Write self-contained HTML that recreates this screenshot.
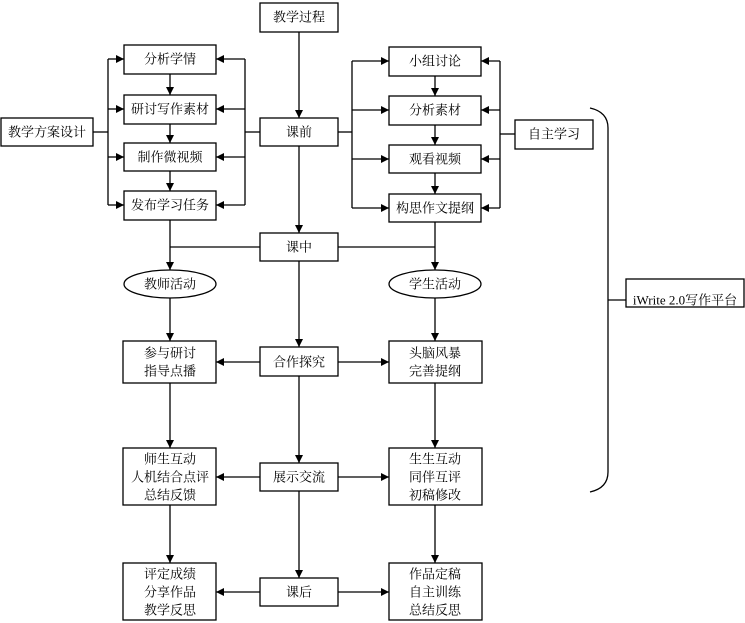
<!DOCTYPE html>
<html><head><meta charset="utf-8"><style>
html,body{margin:0;padding:0;background:#fff}
svg{display:block}
text{font-family:"Liberation Serif","Noto Serif CJK SC",serif;font-size:13px;fill:#000;text-anchor:middle;dominant-baseline:central}
</style></head><body>
<svg width="745" height="623" viewBox="0 0 745 623">
<defs><marker id="a" viewBox="0 0 10 10" refX="10" refY="5" markerWidth="8" markerHeight="8" markerUnits="userSpaceOnUse" orient="auto"><path d="M0,0L10,5L0,10z" fill="#000"/></marker></defs>
<g stroke="#000" stroke-width="1.3" fill="none">
<!-- center spine -->
<line x1="299" y1="32" x2="299" y2="118" marker-end="url(#a)"/>
<line x1="299" y1="146" x2="299" y2="233" marker-end="url(#a)"/>
<line x1="299" y1="261" x2="299" y2="347" marker-end="url(#a)"/>
<line x1="299" y1="376" x2="299" y2="463" marker-end="url(#a)"/>
<line x1="299" y1="491" x2="299" y2="578" marker-end="url(#a)"/>
<!-- left group -->
<line x1="93" y1="132" x2="108" y2="132"/>
<line x1="108" y1="59" x2="108" y2="205"/>
<line x1="108" y1="59" x2="124" y2="59" marker-end="url(#a)"/>
<line x1="108" y1="109" x2="124" y2="109" marker-end="url(#a)"/>
<line x1="108" y1="157" x2="124" y2="157" marker-end="url(#a)"/>
<line x1="108" y1="205" x2="124" y2="205" marker-end="url(#a)"/>
<line x1="260" y1="132" x2="245" y2="132"/>
<line x1="245" y1="59" x2="245" y2="205"/>
<line x1="245" y1="59" x2="216" y2="59" marker-end="url(#a)"/>
<line x1="245" y1="109" x2="216" y2="109" marker-end="url(#a)"/>
<line x1="245" y1="157" x2="216" y2="157" marker-end="url(#a)"/>
<line x1="245" y1="205" x2="216" y2="205" marker-end="url(#a)"/>
<line x1="170" y1="74" x2="170" y2="95" marker-end="url(#a)"/>
<line x1="170" y1="124" x2="170" y2="143" marker-end="url(#a)"/>
<line x1="170" y1="171" x2="170" y2="191" marker-end="url(#a)"/>
<!-- right group -->
<line x1="338" y1="132" x2="352" y2="132"/>
<line x1="352" y1="61" x2="352" y2="208"/>
<line x1="352" y1="61" x2="389" y2="61" marker-end="url(#a)"/>
<line x1="352" y1="110" x2="389" y2="110" marker-end="url(#a)"/>
<line x1="352" y1="159" x2="389" y2="159" marker-end="url(#a)"/>
<line x1="352" y1="208" x2="389" y2="208" marker-end="url(#a)"/>
<line x1="515" y1="134" x2="500" y2="134"/>
<line x1="500" y1="61" x2="500" y2="208"/>
<line x1="500" y1="61" x2="481" y2="61" marker-end="url(#a)"/>
<line x1="500" y1="110" x2="481" y2="110" marker-end="url(#a)"/>
<line x1="500" y1="159" x2="481" y2="159" marker-end="url(#a)"/>
<line x1="500" y1="208" x2="481" y2="208" marker-end="url(#a)"/>
<line x1="435" y1="76" x2="435" y2="96" marker-end="url(#a)"/>
<line x1="435" y1="125" x2="435" y2="145" marker-end="url(#a)"/>
<line x1="435" y1="173" x2="435" y2="194" marker-end="url(#a)"/>
<!-- 课中 -->
<line x1="170" y1="247" x2="260" y2="247"/>
<line x1="338" y1="247" x2="435" y2="247"/>
<line x1="170" y1="220" x2="170" y2="270" marker-end="url(#a)"/>
<line x1="435" y1="222" x2="435" y2="270" marker-end="url(#a)"/>
<line x1="170" y1="298" x2="170" y2="341" marker-end="url(#a)"/>
<line x1="435" y1="298" x2="435" y2="341" marker-end="url(#a)"/>
<line x1="170" y1="383" x2="170" y2="448" marker-end="url(#a)"/>
<line x1="435" y1="383" x2="435" y2="448" marker-end="url(#a)"/>
<line x1="170" y1="505" x2="170" y2="563" marker-end="url(#a)"/>
<line x1="435" y1="505" x2="435" y2="563" marker-end="url(#a)"/>
<line x1="260" y1="362" x2="216" y2="362" marker-end="url(#a)"/>
<line x1="338" y1="362" x2="389" y2="362" marker-end="url(#a)"/>
<line x1="260" y1="477" x2="216" y2="477" marker-end="url(#a)"/>
<line x1="338" y1="477" x2="389" y2="477" marker-end="url(#a)"/>
<line x1="260" y1="592" x2="216" y2="592" marker-end="url(#a)"/>
<line x1="338" y1="592" x2="389" y2="592" marker-end="url(#a)"/>
<!-- brace -->
<path d="M590,108 Q608,112 608,128 L608,472 Q608,488 590,492"/>
<line x1="608" y1="300" x2="626" y2="300"/>
<!-- boxes -->
<rect x="260" y="3" width="78" height="29"/>
<rect x="124" y="45" width="92" height="29"/>
<rect x="124" y="95" width="92" height="29"/>
<rect x="124" y="143" width="92" height="28"/>
<rect x="124" y="191" width="92" height="29"/>
<rect x="1" y="118" width="92" height="28"/>
<rect x="260" y="118" width="78" height="28"/>
<rect x="260" y="233" width="78" height="28"/>
<rect x="389" y="47" width="92" height="29"/>
<rect x="389" y="96" width="92" height="29"/>
<rect x="389" y="145" width="92" height="28"/>
<rect x="389" y="194" width="92" height="28"/>
<rect x="515" y="120" width="78" height="29"/>
<rect x="626" y="279" width="118" height="28"/>
<ellipse cx="170" cy="284" rx="46" ry="14"/>
<ellipse cx="435" cy="284" rx="46" ry="14"/>
<rect x="123" y="341" width="93" height="42"/>
<rect x="260" y="347" width="78" height="29"/>
<rect x="389" y="341" width="93" height="42"/>
<rect x="123" y="448" width="93" height="57"/>
<rect x="260" y="463" width="78" height="28"/>
<rect x="389" y="448" width="93" height="57"/>
<rect x="123" y="563" width="93" height="57"/>
<rect x="260" y="578" width="78" height="28"/>
<rect x="389" y="563" width="93" height="57"/>
</g>
<text x="299" y="17">教学过程</text>
<text x="170" y="59">分析学情</text>
<text x="170" y="109">研讨写作素材</text>
<text x="170" y="157">制作微视频</text>
<text x="170" y="205">发布学习任务</text>
<text x="47" y="132">教学方案设计</text>
<text x="299" y="132">课前</text>
<text x="299" y="247">课中</text>
<text x="435" y="61">小组讨论</text>
<text x="435" y="110">分析素材</text>
<text x="435" y="159">观看视频</text>
<text x="435" y="208">构思作文提纲</text>
<text x="554" y="134">自主学习</text>
<text x="685" y="300">iWrite 2.0写作平台</text>
<text x="170" y="284">教师活动</text>
<text x="435" y="284">学生活动</text>
<text x="170" y="353">参与研讨</text><text x="170" y="371">指导点播</text>
<text x="299" y="362">合作探究</text>
<text x="435" y="353">头脑风暴</text><text x="435" y="371">完善提纲</text>
<text x="170" y="459">师生互动</text><text x="170" y="477">人机结合点评</text><text x="170" y="495">总结反馈</text>
<text x="299" y="477">展示交流</text>
<text x="435" y="459">生生互动</text><text x="435" y="477">同伴互评</text><text x="435" y="495">初稿修改</text>
<text x="170" y="574">评定成绩</text><text x="170" y="592">分享作品</text><text x="170" y="610">教学反思</text>
<text x="299" y="592">课后</text>
<text x="435" y="574">作品定稿</text><text x="435" y="592">自主训练</text><text x="435" y="610">总结反思</text>
</svg>
</body></html>
